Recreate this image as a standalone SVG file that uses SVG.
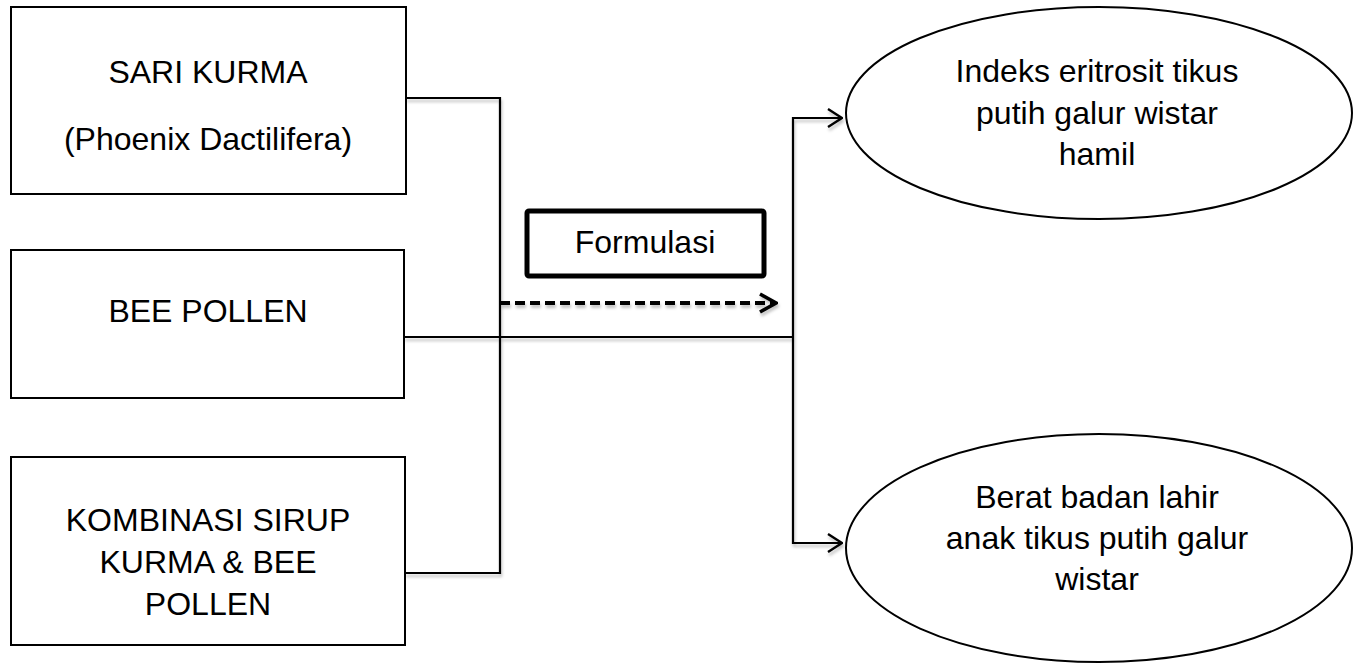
<svg xmlns="http://www.w3.org/2000/svg" width="1360" height="664" viewBox="0 0 1360 664">
<style>
.box{fill:#fff;stroke:#000;stroke-width:2}
.ell{fill:#fff;stroke:#000;stroke-width:2}
.t{font-family:"Liberation Sans",Arial,sans-serif;font-size:32px;fill:#000;text-anchor:middle}
.ln{fill:none;stroke:#000;stroke-width:2.2}
</style>
<defs>
<filter id="sh" x="-5%" y="-5%" width="110%" height="120%">
<feDropShadow dx="1" dy="3" stdDeviation="1.5" flood-color="#000" flood-opacity="0.25"/>
</filter>
<marker id="ah" viewBox="0 0 16 20" refX="15" refY="10" markerWidth="16" markerHeight="20" markerUnits="userSpaceOnUse" orient="auto">
<path d="M1,1 L15,10 L1,19" fill="none" stroke="#000" stroke-width="2.4"/>
</marker>
<marker id="ahd" viewBox="0 0 20 22" refX="18" refY="11" markerWidth="20" markerHeight="22" markerUnits="userSpaceOnUse" orient="auto">
<path d="M2,2 L18,11 L2,20" fill="none" stroke="#000" stroke-width="3.6"/>
</marker>
</defs>
<rect width="1360" height="664" fill="#fff"/>
<g id="connectors" filter="url(#sh)">
<path class="ln" d="M406,98 H500 V573 H405"/>
<path class="ln" d="M404,337 H793"/>
<path class="ln" d="M793,337 V118 H842" marker-end="url(#ah)"/>
<path class="ln" d="M793,337 V543 H842" marker-end="url(#ah)"/>
<path d="M500,303 H776" fill="none" stroke="#000" stroke-width="4" stroke-dasharray="10,5" marker-end="url(#ahd)"/>
</g>
<g id="sari-kurma">
<rect class="box" x="11" y="7" width="395" height="187"/>
<text class="t" x="208" y="83">SARI KURMA</text>
<text class="t" x="208" y="150">(Phoenix Dactilifera)</text>
</g>
<g id="bee-pollen">
<rect class="box" x="11" y="250" width="393" height="148"/>
<text class="t" x="208" y="322">BEE POLLEN</text>
</g>
<g id="kombinasi">
<rect class="box" x="11" y="457" width="394" height="188"/>
<text class="t" x="208" y="531">KOMBINASI SIRUP</text>
<text class="t" x="208" y="573">KURMA &amp; BEE</text>
<text class="t" x="208" y="615">POLLEN</text>
</g>
<g id="formulasi">
<rect x="527" y="211" width="237" height="65" rx="2" fill="#fff" stroke="#000" stroke-width="5"/>
<text class="t" x="645" y="253">Formulasi</text>
</g>
<g id="indeks-eritrosit">
<ellipse class="ell" cx="1099" cy="113" rx="253" ry="106"/>
<text class="t" x="1097" y="82">Indeks eritrosit tikus</text>
<text class="t" x="1097" y="124">putih galur wistar</text>
<text class="t" x="1097" y="165">hamil</text>
</g>
<g id="berat-badan">
<ellipse class="ell" cx="1099" cy="548" rx="253" ry="114"/>
<text class="t" x="1097" y="508">Berat badan lahir</text>
<text class="t" x="1097" y="549">anak tikus putih galur</text>
<text class="t" x="1097" y="590">wistar</text>
</g>
</svg>
